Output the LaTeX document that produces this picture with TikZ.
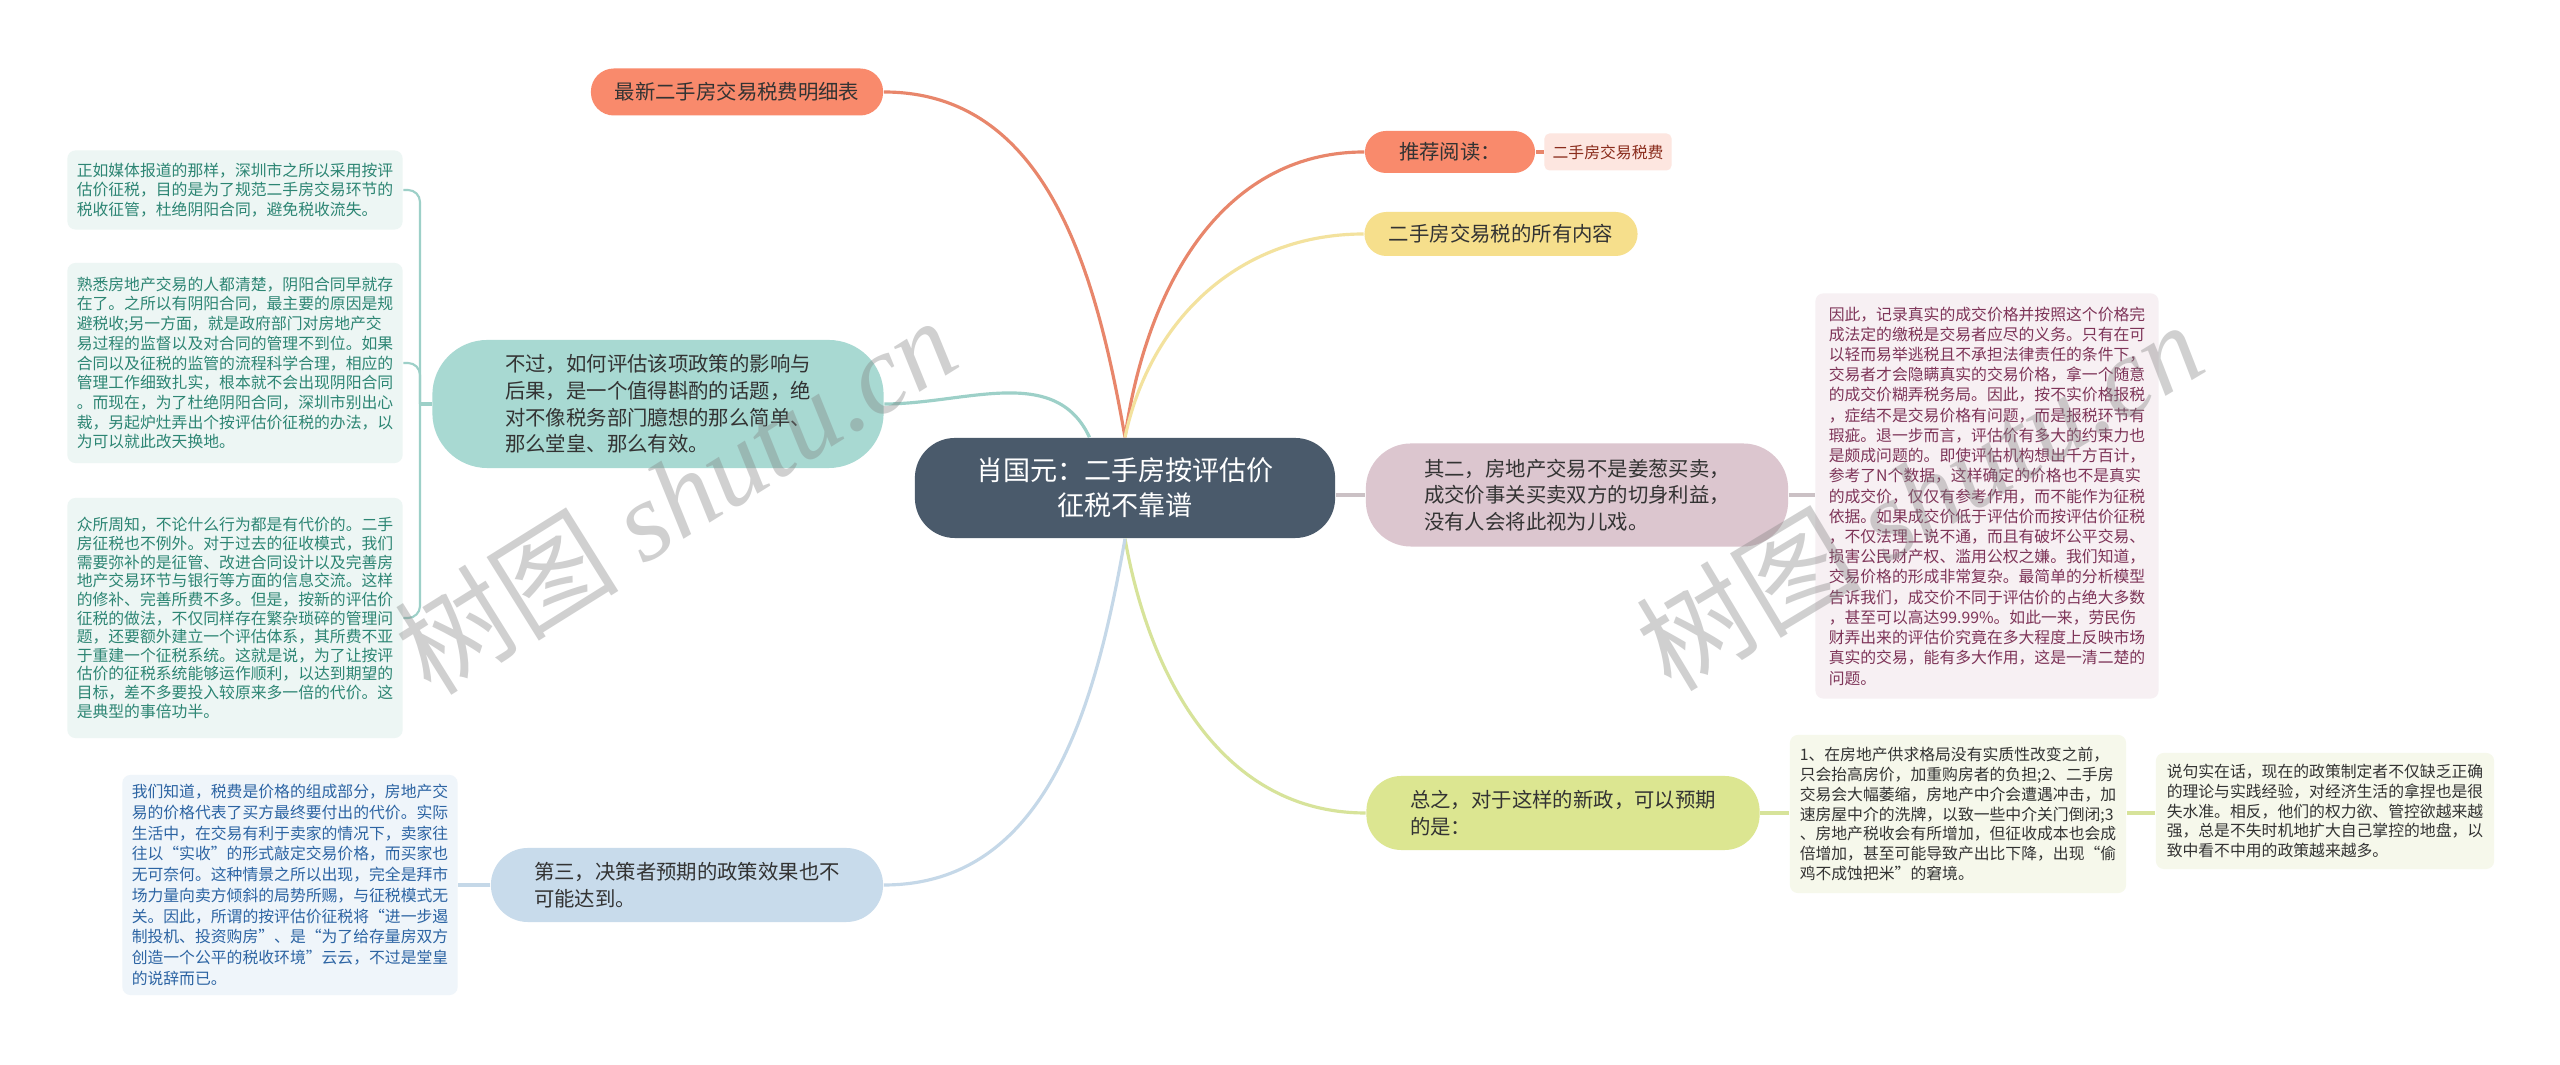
\documentclass[tikz,border=0pt]{standalone}
\usepackage{fontspec}
\setmainfont{Noto Sans CJK SC}
\newfontfamily\wmfont{Liberation Serif}
\usetikzlibrary{positioning}

\definecolor{topicbg}{HTML}{4A5A6B}
\definecolor{orangebg}{HTML}{F98A6C}
\definecolor{orangeline}{HTML}{E8866B}
\definecolor{tagbg}{HTML}{FDE6E0}
\definecolor{tagtext}{HTML}{8A2C1C}
\definecolor{yellowbg}{HTML}{F6DF8C}
\definecolor{yellowline}{HTML}{F3E29E}
\definecolor{pinkbg}{HTML}{DCC6CF}
\definecolor{pinknote}{HTML}{F7F0F3}
\definecolor{pinktext}{HTML}{7E3458}
\definecolor{grayline}{HTML}{CBC1C5}
\definecolor{greenbg}{HTML}{DCE691}
\definecolor{greennote}{HTML}{F6F8EB}
\definecolor{greenline}{HTML}{D7E39A}
\definecolor{tealbg}{HTML}{A8D9D2}
\definecolor{tealnote}{HTML}{EDF6F4}
\definecolor{tealtext}{HTML}{2C8573}
\definecolor{tealline}{HTML}{9DD0C8}
\definecolor{bluebg}{HTML}{C8DBEB}
\definecolor{bluenote}{HTML}{EFF5FA}
\definecolor{bluetext}{HTML}{2C64A3}
\definecolor{blueline}{HTML}{C5D8E8}
\definecolor{branchtext}{HTML}{333333}

\begin{document}
\begin{tikzpicture}[x=0.01cm, y=-0.01cm,
    topic/.style={rounded corners=0.4cm, fill=topicbg, text=white, align=center,
      font=\fontsize{7.7}{10}\selectfont, minimum width=4.2cm, minimum height=1cm},
    branch/.style={align=left, text=branchtext, inner sep=0pt,
      font=\fontsize{5.8}{7.6}\selectfont},
    note/.style={rounded corners=0.08cm, align=left, inner sep=0pt,
      font=\fontsize{4.5}{5.6}\selectfont},
    link/.style={line width=0.9pt},
    fork/.style={line width=0.6pt, rounded corners=0.12cm},
    watermark/.style={text opacity=0.37, text=gray, font=\fontsize{32}{32}\selectfont}]

  \fill[white] (0,0) rectangle (2560,1065);
  \useasboundingbox (0,0) rectangle (2560,1065);

  \node[topic] (title) at (1125,488) {肖国元：二手房按评估价\\征税不靠谱};

  \node[branch, fill=orangebg, rounded corners=0.23cm, minimum width=2.92cm, minimum height=0.47cm] (latest) at (737,92) {最新二手房交易税费明细表};
  \node[branch, fill=orangebg, rounded corners=0.21cm, minimum width=1.7cm, minimum height=0.42cm] (recommend) at (1450,152) {推荐阅读：};
  \node[note, fill=tagbg, text=tagtext, rounded corners=0.05cm, minimum width=1.27cm, minimum height=0.37cm] (readtag) at (1608,152) {二手房交易税费};
  \node[branch, fill=yellowbg, rounded corners=0.22cm, minimum width=2.73cm, minimum height=0.44cm] (allcontent) at (1501,234) {二手房交易税的所有内容};

  \node[branch, fill=pinkbg, rounded corners=0.45cm, minimum width=4.22cm, minimum height=1.03cm] (second) at (1577,495) {其二，房地产交易不是姜葱买卖，\\成交价事关买卖双方的切身利益，\\没有人会将此视为儿戏。};
  \node[note, fill=pinknote, text=pinktext, font=\fontsize{4.5}{5.75}\selectfont, minimum width=3.43cm, minimum height=4.05cm] (secondnote) at (1987,496) {因此，记录真实的成交价格并按照这个价格完\\成法定的缴税是交易者应尽的义务。只有在可\\以轻而易举逃税且不承担法律责任的条件下，\\交易者才会隐瞒真实的交易价格，拿一个随意\\的成交价糊弄税务局。因此，按不实价格报税\\，症结不是交易价格有问题，而是报税环节有\\瑕疵。退一步而言，评估价有多大的约束力也\\是颇成问题的。即使评估机构想出千方百计，\\参考了N个数据，这样确定的价格也不是真实\\的成交价，仅仅有参考作用，而不能作为征税\\依据。如果成交价低于评估价而按评估价征税\\，不仅法理上说不通，而且有破坏公平交易、\\损害公民财产权、滥用公权之嫌。我们知道，\\交易价格的形成非常复杂。最简单的分析模型\\告诉我们，成交价不同于评估价的占绝大多数\\，甚至可以高达99.99\%。如此一来，劳民伤\\财弄出来的评估价究竟在多大程度上反映市场\\真实的交易，能有多大作用，这是一清二楚的\\问题。};

  \node[branch, fill=greenbg, rounded corners=0.35cm, minimum width=3.93cm, minimum height=0.74cm] (summary) at (1563,813) {总之，对于这样的新政，可以预期\\的是：};
  \node[note, fill=greennote, text=branchtext, minimum width=3.36cm, minimum height=1.58cm] (summarynote1) at (1958,814) {1、在房地产供求格局没有实质性改变之前，\\只会抬高房价，加重购房者的负担;2、二手房\\交易会大幅萎缩，房地产中介会遭遇冲击，加\\速房屋中介的洗牌，以致一些中介关门倒闭;3\\、房地产税收会有所增加，但征收成本也会成\\倍增加，甚至可能导致产出比下降，出现“偷\\鸡不成蚀把米”的窘境。};
  \node[note, fill=greennote, text=branchtext, minimum width=3.38cm, minimum height=1.16cm] (summarynote2) at (2325,811) {说句实在话，现在的政策制定者不仅缺乏正确\\的理论与实践经验，对经济生活的拿捏也是很\\失水准。相反，他们的权力欲、管控欲越来越\\强，总是不失时机地扩大自己掌控的地盘，以\\致中看不中用的政策越来越多。};

  \node[branch, fill=tealbg, rounded corners=0.55cm, minimum width=4.51cm, minimum height=1.28cm] (however) at (658,404) {不过，如何评估该项政策的影响与\\后果，是一个值得斟酌的话题，绝\\对不像税务部门臆想的那么简单、\\那么堂皇、那么有效。};
  \node[note, fill=tealnote, text=tealtext, minimum width=3.35cm, minimum height=0.79cm] (leftnote1) at (235,190) {正如媒体报道的那样，深圳市之所以采用按评\\估价征税，目的是为了规范二手房交易环节的\\税收征管，杜绝阴阳合同，避免税收流失。};
  \node[note, fill=tealnote, text=tealtext, minimum width=3.35cm, minimum height=2cm] (leftnote2) at (235,363) {熟悉房地产交易的人都清楚，阴阳合同早就存\\在了。之所以有阴阳合同，最主要的原因是规\\避税收;另一方面，就是政府部门对房地产交\\易过程的监督以及对合同的管理不到位。如果\\合同以及征税的监管的流程科学合理，相应的\\管理工作细致扎实，根本就不会出现阴阳合同\\。而现在，为了杜绝阴阳合同，深圳市别出心\\裁，另起炉灶弄出个按评估价征税的办法，以\\为可以就此改天换地。};
  \node[note, fill=tealnote, text=tealtext, font=\fontsize{4.5}{5.3}\selectfont, minimum width=3.35cm, minimum height=2.4cm] (leftnote3) at (235,618) {众所周知，不论什么行为都是有代价的。二手\\房征税也不例外。对于过去的征收模式，我们\\需要弥补的是征管、改进合同设计以及完善房\\地产交易环节与银行等方面的信息交流。这样\\的修补、完善所费不多。但是，按新的评估价\\征税的做法，不仅同样存在繁杂琐碎的管理问\\题，还要额外建立一个评估体系，其所费不亚\\于重建一个征税系统。这就是说，为了让按评\\估价的征税系统能够运作顺利，以达到期望的\\目标，差不多要投入较原来多一倍的代价。这\\是典型的事倍功半。};

  \node[branch, fill=bluebg, rounded corners=0.37cm, minimum width=3.92cm, minimum height=0.74cm] (third) at (687,885) {第三，决策者预期的政策效果也不\\可能达到。};
  \node[note, fill=bluenote, text=bluetext, font=\fontsize{4.5}{5.9}\selectfont, minimum width=3.35cm, minimum height=2.2cm] (thirdnote) at (290,885) {我们知道，税费是价格的组成部分，房地产交\\易的价格代表了买方最终要付出的代价。实际\\生活中，在交易有利于卖家的情况下，卖家往\\往以“实收”的形式敲定交易价格，而买家也\\无可奈何。这种情景之所以出现，完全是拜市\\场力量向卖方倾斜的局势所赐，与征税模式无\\关。因此，所谓的按评估价征税将“进一步遏\\制投机、投资购房”、是“为了给存量房双方\\创造一个公平的税收环境”云云，不过是堂皇\\的说辞而已。};

  \coordinate (split) at (420,404);

  \draw[link, orangeline] (title.north) to[out=100,in=0] (latest.east);
  \draw[link, orangeline] (title.north) to[out=82,in=180] (recommend.west);
  \draw[link, orangeline] (recommend.east) -- (readtag.west);
  \draw[link, yellowline] (title.north) to[out=78,in=180] (allcontent.west);
  \draw[link, tealline] (however.east) to[out=0,in=115] (title.125);
  \draw[link, grayline] (title.east |- second.west) -- (second.west);
  \draw[link, grayline] (second.east) -- (second.east -| secondnote.west);
  \draw[link, greenline] (title.south) to[out=-80,in=180] (summary.west);
  \draw[link, greenline] (summary.east) -- (summary.east -| summarynote1.west);
  \draw[link, greenline] (summarynote1.east |- summary.east) -- (summary.east -| summarynote2.west);
  \draw[link, blueline] (title.south) to[out=-100,in=0] (third.east);
  \draw[link, blueline] (third.west) -- (third.west -| thirdnote.east);
  \draw[link, tealline] (however.west) -- (split);
  \foreach \n in {leftnote1,leftnote2,leftnote3}
    \draw[fork, tealline] (split) |- (\n.east);

  \node[watermark, rotate=32] (markleft) at (675,495) {树图 {\wmfont\itshape shutu.cn}};
  \node[watermark, rotate=31] (markright) at (1919,495) {树图 {\wmfont\itshape shutu.cn}};
\end{tikzpicture}
\end{document}
